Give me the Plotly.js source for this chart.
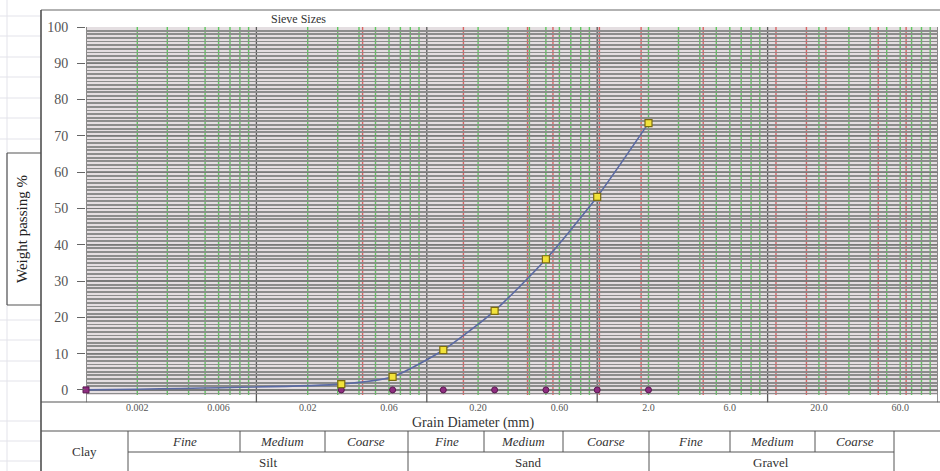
<!DOCTYPE html>
<html>
<head>
<meta charset="utf-8">
<script src="https://cdn.plot.ly/plotly-3.0.1.min.js"></script>
<style>html,body{margin:0;padding:0;background:#fff;}#chart{width:940px;height:471px;}</style>
</head>
<body>
<div id="chart"></div>
<script>
// ---- data ----
const panSize = 0.001;
const panPassing = 0;
const sieveSizes = [0.0315, 0.063, 0.125, 0.25, 0.5, 1.0, 2.0];
const percentPassing = [1.6, 3.6, 11, 21.8, 36, 53.2, 73.5];
const tickValues = [0.002, 0.006, 0.02, 0.06, 0.2, 0.6, 2, 6, 20, 60];
const tickLabels = ["0.002", "0.006", "0.02", "0.06", "0.20", "0.60", "2.0", "6.0", "20.0", "60.0"];
const yTicks = [0, 10, 20, 30, 40, 50, 60, 70, 80, 90, 100];
const redLines = [0.042, 0.164, 0.39, 0.55, 1.03, 1.81, 4.19, 11.2, 16.9, 22, 44.6, 65];
const decades = [0.001, 0.01, 0.1, 1, 10, 100];
const soilRow1 = ["Fine", "Medium", "Coarse", "Fine", "Medium", "Coarse", "Fine", "Medium", "Coarse"];
const soilRow2 = ["Silt", "Sand", "Gravel"];

// ---- layout helpers (pixel -> paper) ----
const W = 940, H = 471, L = 86, R = 2, T = 27, B = 76;
const PW = W - L - R, PH = H - T - B;
const px = v => (v - L) / PW;
const py = v => (H - B - v) / PH;

const shapes = [];
// minor log grid (green)
decades.slice(0, -1).forEach(d => {
  for (let k = 2; k <= 9; k++) {
    shapes.push({type: 'line', xref: 'x', yref: 'paper', x0: d * k, x1: d * k, y0: 0, y1: 1,
      line: {color: 'rgba(80,195,80,0.9)', width: 1.4}, layer: 'below'});
  }
});
redLines.forEach(v => shapes.push({type: 'line', xref: 'x', yref: 'paper', x0: v, x1: v, y0: 0, y1: 1,
  line: {color: 'rgba(215,85,85,0.9)', width: 1.4}, layer: 'below'}));
decades.forEach(v => shapes.push({type: 'line', xref: 'x', yref: 'paper', x0: v, x1: v, y0: -0.02, y1: 1,
  line: {color: '#5a5a5a', width: 1.3}, layer: 'below'}));

// frame / table lines (pixel positions)
const seg = (x0, y0, x1, y1, c, w) => shapes.push({type: 'line', xref: 'paper', yref: 'paper',
  x0: px(x0), x1: px(x1), y0: py(y0), y1: py(y1), line: {color: c || '#555', width: w || 1}});
// spreadsheet faint grid at left
[16, 36, 57, 77, 98, 118, 139, 320, 340, 361, 381, 421, 441, 461].forEach(y => seg(0, y, 41, y, '#e3e3ea', 1));
seg(7, 0, 7, 471, '#e3e3ea', 1);
seg(41, 10, 940, 10, '#999', 1.5);
seg(41, 10, 41, 471, '#444', 1.5);
seg(7, 153, 41, 153, '#555', 1.2);
seg(7, 305, 41, 305, '#555', 1.2);
seg(7, 153, 7, 305, '#555', 1.2);
seg(41, 402, 940, 402, '#555', 1.2);
seg(41, 431, 940, 431, '#555', 1.2);
seg(128, 452, 894, 452, '#555', 1);
[128, 408, 649, 894].forEach(x => seg(x, 431, x, 471, '#555', 1));
[240, 325, 484, 563, 730, 815].forEach(x => seg(x, 431, x, 452, '#555', 1));

const annotations = [];
const txt = (t, x, y, opts) => annotations.push(Object.assign({text: t, xref: 'paper', yref: 'paper',
  x: px(x), y: py(y), showarrow: false, xanchor: 'center', yanchor: 'middle',
  font: {family: 'Liberation Serif, serif', size: 12, color: '#333'}}, opts || {}));
txt('Grain Diameter (mm)', 473, 423, {font: {family: 'Liberation Serif, serif', size: 14, color: '#333'}});
txt('Sieve Sizes', 298, 19, {font: {family: 'Liberation Serif, serif', size: 12, color: '#333'}});
txt('Weight passing %', 22, 229, {textangle: -90, font: {family: 'Liberation Serif, serif', size: 15, color: '#222'}});
txt('Clay', 84, 451, {font: {family: 'Liberation Serif, serif', size: 13, color: '#333'}});
const r1x = [184, 282, 366, 446, 523, 606, 690, 772, 855];
soilRow1.forEach((t, i) => txt('<i>' + t + '</i>', r1x[i], 441, {font: {family: 'Liberation Serif, serif', size: 13, color: '#333'}}));
const r2x = [268, 528, 771];
soilRow2.forEach((t, i) => txt(t, r2x[i], 462, {font: {family: 'Liberation Serif, serif', size: 13, color: '#333'}}));

const serif = 'Liberation Serif, Times New Roman, serif';
const traces = [
  {x: [panSize].concat(sieveSizes), y: [panPassing].concat(percentPassing), type: 'scatter', mode: 'lines',
   line: {color: '#5b6aa3', width: 1.6, shape: 'spline', smoothing: 0.6}, hoverinfo: 'skip', showlegend: false},
  {x: [panSize].concat(sieveSizes), y: [panPassing].concat(sieveSizes.map(() => 0)), type: 'scatter', mode: 'markers',
   marker: {symbol: ['square'].concat(sieveSizes.map(() => 'circle')), size: 6, color: '#8e2c80',
   line: {color: '#5a1a50', width: 1}}, showlegend: false, cliponaxis: false},
  {x: sieveSizes, y: percentPassing, type: 'scatter', mode: 'markers',
   marker: {symbol: 'square', size: 7, color: '#f2e23a', line: {color: '#7d6c10', width: 1.2}}, showlegend: false}
];

const layout = {
  width: W, height: H,
  margin: {l: L, r: R, t: T, b: B, pad: 0},
  paper_bgcolor: '#ffffff',
  plot_bgcolor: '#e4dee1',
  showlegend: false,
  xaxis: {type: 'log', range: [-3, 2], tickvals: tickValues, ticktext: tickLabels,
    ticks: 'outside', ticklen: 3, tickcolor: 'rgba(0,0,0,0)', showgrid: false, zeroline: false,
    showline: false, tickfont: {family: serif, size: 10, color: '#555'}},
  yaxis: {range: [-1.4, 100], tickvals: yTicks, ticks: 'outside', ticklen: 8, tickcolor: '#666',
    ticklabelstandoff: 6,
    showgrid: true, gridcolor: '#7a7a7a', gridwidth: 1.2, zeroline: false, showline: false,
    minor: {dtick: 1, showgrid: true, gridcolor: '#8c8c8c', gridwidth: 1.8},
    tickfont: {family: serif, size: 14, color: '#555'}},
  shapes: shapes,
  annotations: annotations
};
Plotly.newPlot('chart', traces, layout, {displayModeBar: false, staticPlot: true});
</script>
</body>
</html>
